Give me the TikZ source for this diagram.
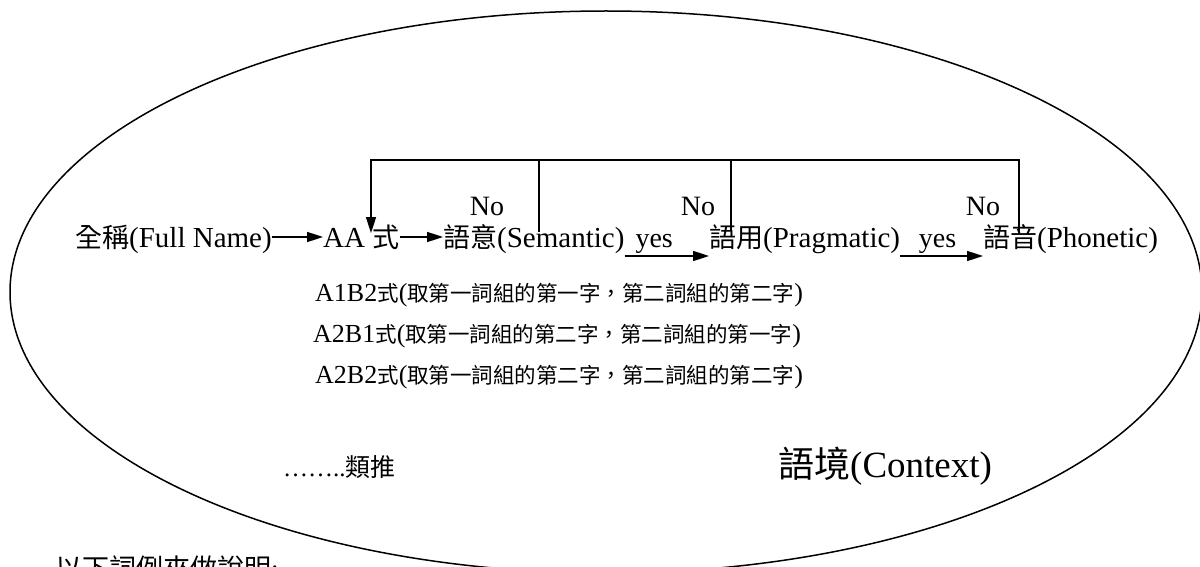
\documentclass[tikz,border=0pt]{standalone}
\usepackage{fontspec}
\setmainfont{Liberation Serif}
\newfontfamily\cjk{Noto Sans CJK TC}
\usetikzlibrary{arrows.meta}
\newcommand\zh[2]{{\cjk\fontsize{#1}{#1}\selectfont #2}}
\begin{document}
\begin{tikzpicture}[x=1pt,y=-1pt,
  txt/.style={inner sep=0pt, anchor=base west, font=\fontsize{29}{34}\selectfont},
  lbl/.style={inner sep=0pt, anchor=base, font=\fontsize{28}{34}\selectfont},
  row/.style={inner sep=0pt, anchor=base west, font=\fontsize{26}{30}\selectfont},
  conn/.style={line width=1.6pt},
  arr/.style={conn,-{Triangle[length=16pt,width=10pt]}}]
\useasboundingbox (0,0) rectangle (1200,567);
\clip (0,0) rectangle (1200,567);
\draw[line width=1.5pt] (606,292) ellipse [x radius=596pt, y radius=281pt];

% main line
\node[txt] (full) at (75,247) {\zh{27}{全稱}(Full Name)};
\node[txt] (aa) at (323,247) {AA \zh{27}{式}};
\node[txt] (sem) at (443,247) {\zh{27}{語意}(Semantic)};
\node[txt] (prag) at (709,247) {\zh{27}{語用}(Pragmatic)};
\node[txt] (phon) at (983,247) {\zh{27}{語音}(Phonetic)};

\draw[arr] ([yshift=10pt]full.base east) -- ([yshift=10pt]aa.base west);
\draw[arr] ([yshift=10pt]aa.base east) -- ([yshift=10pt]sem.base west);
\draw[arr] ([yshift=-9pt]sem.base east) -- node[lbl, pos=0.35, yshift=9pt] (yes1) {yes} ([yshift=-9pt]prag.base west);
\draw[arr] ([yshift=-9pt]prag.base east) -- node[lbl, pos=0.45, yshift=9pt] (yes2) {yes} ([yshift=-9pt]phon.base west);

% feedback
\coordinate (fb) at (371,160);
\coordinate (aatop) at (371,233);
\coordinate (t1) at (539,232);
\coordinate (t2) at (731,231);
\coordinate (t3) at (1019,232);
\draw[conn] (t1) -- (t1 |- fb);
\draw[conn] (t2) -- (t2 |- fb);
\draw[arr] (t3) |- (fb) -- (aatop);
\node[lbl] (no1) at (487,215) {No};
\node[lbl] (no2) at (698,215) {No};
\node[lbl] (no3) at (983,215) {No};

% rows
\node[row] (r1) at (315,301) {A1B2\zh{21.5}{式}(\zh{21.5}{取第一詞組的第一字，第二詞組的第二字})};
\node[row] (r2) at (313,342) {A2B1\zh{21.5}{式}(\zh{21.5}{取第一詞組的第二字，第二詞組的第一字})};
\node[row] (r3) at (315,383) {A2B2\zh{21.5}{式}(\zh{21.5}{取第一詞組的第二字，第二詞組的第二字})};
\node[row, font=\fontsize{25}{30}\selectfont] (etc) at (283,476) {……..\zh{25}{類推}};
\node[inner sep=0pt, anchor=base west, font=\fontsize{37}{40}\selectfont] (ctx) at (778,477) {\zh{36}{語境}(Context)};
\node[inner sep=0pt, anchor=base west, font=\fontsize{27}{30}\selectfont] (note) at (55,578) {\zh{27}{以下詞例來做說明}:};
\end{tikzpicture}
\end{document}
